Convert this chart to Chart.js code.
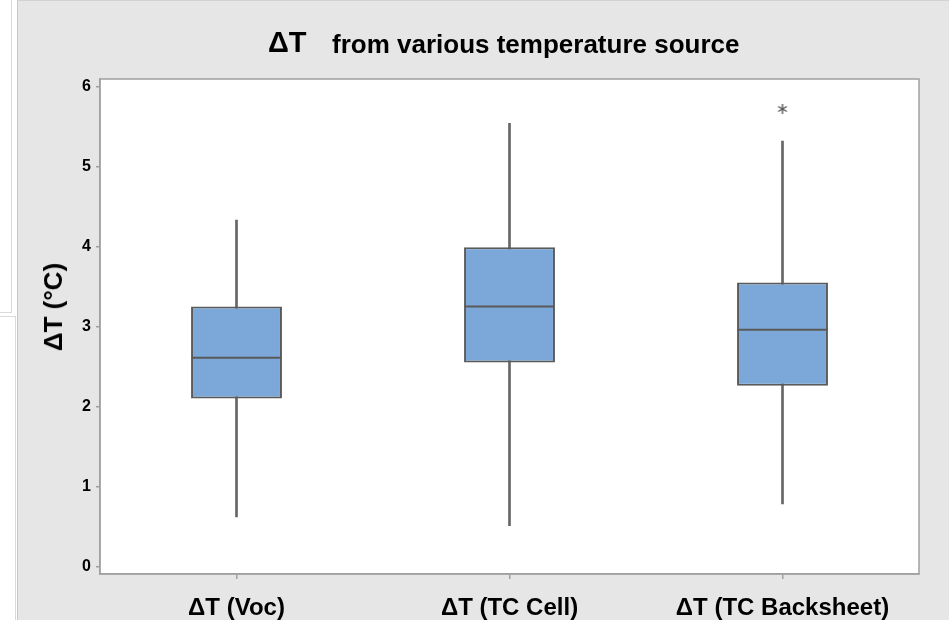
<!DOCTYPE html>
<html>
<head>
<meta charset="utf-8">
<script src="https://cdn.jsdelivr.net/npm/chart.js@4.4.1/dist/chart.umd.min.js"></script>
<style>
  body { margin: 0; width: 949px; height: 620px; overflow: hidden; background: #fff; position: relative; font-family: "Liberation Sans", Arial, sans-serif; }
  .side-top { position: absolute; left: 0; top: 0; width: 11px; height: 312px; border-right: 1px solid #d9d9d9; border-bottom: 1px solid #d9d9d9; }
  .side-bottom { position: absolute; left: 0; top: 316px; width: 15px; height: 310px; border-right: 1px solid #d9d9d9; border-top: 1px solid #d9d9d9; }
  .panel { position: absolute; left: 17px; top: 0; width: 932px; height: 620px; background: #e6e6e6; border-left: 1px solid #c8c8c8; border-top: 1px solid #d2d2d2; box-sizing: border-box; }
  #chart { position: absolute; left: 0; top: 0; }
  .title { position: absolute; font-weight: bold; line-height: 1; white-space: nowrap; color: #000; }
  .title.big { left: 268px; top: 28px; font-size: 29px; }
  .title.rest { left: 332px; top: 31px; font-size: 26px; }
  .ytitle { position: absolute; left: 53px; top: 307px; font-size: 26px; font-weight: bold; line-height: 1; white-space: nowrap; transform: translate(-50%, -50%) rotate(-90deg); }
</style>
</head>
<body>
<div class="side-top"></div>
<div class="side-bottom"></div>
<div class="panel"></div>
<canvas id="chart" width="949" height="620"></canvas>
<div class="title big">ΔT</div>
<div class="title rest">from various temperature source</div>
<div class="ytitle">ΔT (°C)</div>
<script>
// Boxplot-Kennwerte je Temperaturquelle
const categories = ['ΔT (Voc)', 'ΔT (TC Cell)', 'ΔT (TC Backsheet)'];
const whiskerLow = [0.62, 0.51, 0.78];
const q1 = [2.10, 2.55, 2.26];
const medians = [2.61, 3.25, 2.96];
const q3 = [3.25, 3.99, 3.55];
const whiskerHigh = [4.33, 5.54, 5.32];
const outliers = [null, null, 5.72];
const yTicks = [0, 1, 2, 3, 4, 5, 6];

const lineGray = '#5a5a5a';
const axisGray = '#a0a0a0';

// Sternchen als Punktsymbol für Ausreißer
function makeAsterisk(size, color) {
    const c = document.createElement('canvas');
    c.width = size;
    c.height = size;
    const g = c.getContext('2d');
    g.strokeStyle = color;
    g.lineWidth = 1.4;
    const r = size / 2 - 1;
    [90, 30, 150].forEach(deg => {
        const a = deg * Math.PI / 180;
        g.beginPath();
        g.moveTo(size / 2 - Math.cos(a) * r, size / 2 - Math.sin(a) * r);
        g.lineTo(size / 2 + Math.cos(a) * r, size / 2 + Math.sin(a) * r);
        g.stroke();
    });
    return c;
}

// weißer Plotbereich mit Rahmen
const plotFrame = {
    id: 'plotFrame',
    beforeDraw(chart) {
        const { ctx, chartArea: a } = chart;
        ctx.save();
        ctx.fillStyle = '#ffffff';
        ctx.fillRect(a.left, a.top, a.right - a.left, a.bottom - a.top);
        ctx.restore();
    },
    afterDraw(chart) {
        const { ctx, chartArea: a } = chart;
        ctx.save();
        ctx.strokeStyle = axisGray;
        ctx.lineWidth = 1.5;
        ctx.strokeRect(a.left, a.top, a.right - a.left, a.bottom - a.top);
        ctx.restore();
    }
};

const data = {
    labels: categories,
    datasets: [
        {
            type: 'bar',
            label: 'Whisker',
            data: whiskerLow.map((v, i) => [v, whiskerHigh[i]]),
            backgroundColor: '#666666',
            borderWidth: 0,
            barThickness: 2,
            grouped: false,
            order: 3
        },
        {
            type: 'bar',
            label: 'IQR',
            data: q1.map((v, i) => [v, q3[i]]),
            backgroundColor: '#7ba7d9',
            borderColor: lineGray,
            borderWidth: 2,
            borderSkipped: false,
            barPercentage: 0.333,
            categoryPercentage: 1,
            grouped: false,
            order: 2
        },
        {
            type: 'line',
            label: 'Median',
            data: medians,
            showLine: false,
            pointStyle: 'line',
            pointRadius: 45,
            pointBorderWidth: 2,
            pointBorderColor: lineGray,
            order: 1
        },
        {
            type: 'line',
            label: 'Ausreißer',
            data: outliers,
            showLine: false,
            pointStyle: makeAsterisk(12, '#555555'),
            order: 0
        }
    ]
};

const config = {
    data: data,
    options: {
        responsive: false,
        animation: false,
        layout: {
            autoPadding: false, // Median-Striche sollen keinen Zusatzrand erzeugen
            padding: { left: 0, top: 79, right: 30, bottom: 0 }
        },
        plugins: {
            legend: { display: false },
            tooltip: { enabled: false }
        },
        scales: {
            x: {
                type: 'category',
                offset: true,
                afterFit: scale => {
                    scale.height = 46;
                    scale.paddingLeft = 0;
                    scale.paddingRight = 0;
                },
                grid: { offset: false, drawOnChartArea: false, drawTicks: true, tickLength: 5, color: axisGray, lineWidth: 1.5 },
                border: { color: axisGray, width: 1.5 },
                ticks: {
                    color: '#000',
                    padding: 15,
                    font: { family: "'Liberation Sans', Arial, sans-serif", size: 24, weight: 'bold' }
                }
            },
            y: {
                min: -0.095,
                max: 6.095,
                afterFit: scale => { scale.width = 100; },
                afterBuildTicks: scale => { scale.ticks = yTicks.map(v => ({ value: v })); },
                grid: { drawOnChartArea: false, drawTicks: true, tickLength: 4, color: axisGray, lineWidth: 1.5 },
                border: { color: axisGray, width: 1.5 },
                ticks: {
                    color: '#000',
                    padding: 5,
                    font: { family: "'Liberation Sans', Arial, sans-serif", size: 16, weight: 'bold' }
                }
            }
        }
    },
    plugins: [plotFrame]
};

window.boxChart = new Chart(document.getElementById('chart'), config);
</script>
</body>
</html>
